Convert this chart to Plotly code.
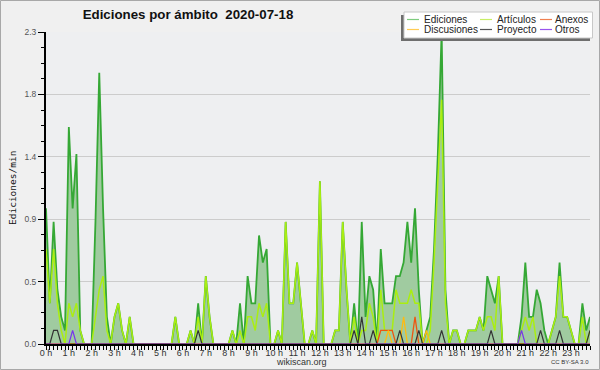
import plotly.graph_objects as go

# ---------------- data (values per 10-minute slot, edits/min) ----------------
STEP_MIN = 10
TITLE = "Ediciones por ámbito  2020-07-18"
Y_TITLE = "Ediciones/min"
HOURS = list(range(24))
HOUR_LABELS = [f"{h} h" for h in HOURS]

ediciones = [
    1.0, 0.3, 0.9, 0.4, 0.2, 0.1,   # 0 h
    1.6, 1.0, 1.4, 0.1, 0, 0,       # 1 h
    0, 0.9, 2.0, 1.0, 0.2, 0,       # 2 h
    0.2, 0.3, 0.1, 0, 0.2, 0,       # 3 h
    0, 0, 0, 0, 0, 0,               # 4 h
    0, 0, 0, 0, 0.2, 0,             # 5 h
    0, 0, 0.1, 0, 0.3, 0,           # 6 h
    0.5, 0.2, 0, 0, 0, 0,           # 7 h
    0, 0.1, 0, 0.3, 0, 0.5,         # 8 h
    0.3, 0.3, 0.8, 0.6, 0.7, 0,     # 9 h
    0, 0.1, 0, 0.9, 0.3, 0.3,       # 10 h
    0.6, 0.3, 0, 0, 0.1, 0,         # 11 h
    1.2, 0, 0, 0, 0.1, 0.1,         # 12 h
    0.9, 0.4, 0, 0.3, 0, 0.9,       # 13 h
    0.2, 0.5, 0.4, 0, 0.7, 0.3,     # 14 h
    0.3, 0.3, 0.5, 0.5, 0.6, 0.9,   # 15 h
    0.6, 1.0, 0.4, 0, 0.1, 0.2,     # 16 h
    0.7, 1.4, 2.3, 0.4, 0, 0.1,     # 17 h
    0.1, 0, 0, 0.1, 0.1, 0.1,       # 18 h
    0.2, 0.1, 0.5, 0.4, 0.3, 0.5,   # 19 h
    0, 0, 0, 0, 0, 0.2,             # 20 h
    0.6, 0.2, 0.2, 0.4, 0.3, 0.1,   # 21 h
    0, 0.1, 0.2, 0.6, 0.2, 0.2,     # 22 h
    0.1, 0, 0, 0.3, 0.1, 0.2,       # 23 h
]

articulos = [
    0.7, 0.3, 0.7, 0.3, 0.1, 0,
    0.3, 0.2, 0.3, 0.1, 0, 0,
    0, 0.2, 0.4, 0.5, 0.1, 0,
    0.2, 0.3, 0.1, 0, 0.2, 0,
    0, 0, 0, 0, 0, 0,
    0, 0, 0, 0, 0.2, 0,
    0, 0, 0.1, 0, 0.2, 0,
    0.5, 0.2, 0, 0, 0, 0,
    0, 0.1, 0, 0.1, 0, 0.2,
    0.2, 0.1, 0.3, 0.2, 0.3, 0,
    0, 0.1, 0, 0.9, 0.3, 0.3,
    0.6, 0.3, 0, 0, 0.1, 0,
    1.2, 0, 0, 0, 0.1, 0.1,
    0.9, 0.4, 0, 0.2, 0, 0.1,
    0.1, 0.3, 0.2, 0, 0.4, 0.1,
    0.1, 0.1, 0.4, 0.3, 0.3, 0.3,
    0.4, 0.3, 0.3, 0, 0, 0.1,
    0.6, 1.2, 1.8, 0.3, 0, 0.1,
    0.1, 0, 0, 0.1, 0.1, 0.1,
    0.2, 0.1, 0.2, 0.2, 0.1, 0.5,
    0, 0, 0, 0, 0, 0.1,
    0.2, 0.1, 0.2, 0, 0, 0,
    0, 0.1, 0.2, 0.5, 0.2, 0.2,
    0.1, 0, 0, 0.2, 0, 0.1,
]

anexos = [0] * 84 + [
    0, 0, 0, 0, 0.1, 0.1,           # 14 h
    0.1, 0.1, 0, 0, 0, 0,           # 15 h
    0, 0.2, 0, 0, 0, 0,             # 16 h
] + [0] * 42

discusiones = [0] * 90 + [
    0.1, 0, 0, 0, 0.2, 0,           # 15 h
    0, 0, 0, 0, 0.1, 0,             # 16 h
] + [0] * 42

proyecto = [
    0, 0, 0.1, 0.1, 0, 0,           # 0 h
] + [0] * 30 + [
    0, 0, 0, 0, 0.1, 0,             # 6 h
] + [0] * 36 + [
    0, 0, 0, 0.1, 0, 0.2,           # 13 h
    0, 0, 0.1, 0, 0, 0,             # 14 h
    0, 0, 0, 0.1, 0, 0,             # 15 h
    0, 0, 0.1, 0, 0, 0,             # 16 h
    0, 0, 0.1, 0, 0, 0,             # 17 h
    0, 0, 0, 0, 0, 0,               # 18 h
    0, 0, 0, 0.1, 0, 0,             # 19 h
    0, 0, 0, 0, 0, 0,               # 20 h
    0, 0, 0, 0, 0.1, 0,             # 21 h
    0, 0, 0, 0.1, 0, 0,             # 22 h
    0, 0, 0, 0, 0, 0.1,             # 23 h
]

otros = [0] * 6 + [0, 0.1, 0, 0, 0, 0] + [0] * 108 + [0, 0, 0, 0, 0, 0.1] + [0] * 18

SERIES_NAMES = ["Ediciones", "Artículos", "Anexos", "Discusiones", "Proyecto", "Otros"]
SERIES_VALUES = [ediciones, articulos, anexos, discusiones, proyecto, otros]
SERIES_COLORS = ["#35a835", "#aaee11", "#ee5511", "#ffbb11", "#333333", "#7733ee"]
LEGEND_COLORS = ["#7fcc7f", "#c8ee66", "#f08050", "#ffcc55", "#555555", "#9955ee"]
SERIES_WIDTHS = [1.8, 1.5, 1.3, 1.3, 1.2, 1.2]
FILL_COLOR = "rgb(160,203,160)"

# ---------------- geometry ----------------
W, H = 600, 370
ML, MR, MT, MB = 46, 10, 32, 26
PW = W - ML - MR
PH = H - MT - MB
SANS = "Liberation Sans"


def px(x):
    return (x - ML) / PW


def py(y):
    return (H - MB - y) / PH


x_hours = [i * STEP_MIN / 60 for i in range(len(ediciones))]

fig = go.Figure()
for k, (name, vals, col, lw) in enumerate(zip(SERIES_NAMES, SERIES_VALUES, SERIES_COLORS, SERIES_WIDTHS)):
    fig.add_trace(go.Scatter(
        x=x_hours, y=vals, mode="lines", name=name,
        line=dict(color=col, width=lw),
        fill="tozeroy" if k == 0 else None,
        fillcolor=FILL_COLOR if k == 0 else None,
        showlegend=False, hoverinfo="skip",
    ))

ymax = max(ediciones)
y_major = [ymax * k / 5 for k in range(6)]
y_labels = [f"{v:.1f}" for v in y_major]
y_minor = [ymax * k / 20 for k in range(21) if k % 4]
x_minor = [i * STEP_MIN / 60 for i in range(len(ediciones)) if i % 6]

fig.update_layout(
    width=W, height=H,
    margin=dict(l=ML, r=MR, t=MT, b=MB, autoexpand=False),
    paper_bgcolor="#f0f0f0",
    plot_bgcolor="#eeeff1",
    font=dict(family=SANS, size=9, color="#333333"),
    showlegend=False,
    title=dict(text=f"<b>{TITLE}</b>", x=188 / W, xanchor="center",
               y=1 - 14 / H, yanchor="middle",
               font=dict(family=SANS, size=13.3, color="#111111")),
    xaxis=dict(
        range=[0, x_hours[-1]],
        tickmode="array", tickvals=HOURS, ticktext=HOUR_LABELS,
        ticks="outside", ticklen=4, tickwidth=1, tickcolor="#000000",
        ticklabelstandoff=-5,
        showline=True, linecolor="#000000", linewidth=2,
        showgrid=False, zeroline=False,
        tickfont=dict(family=SANS, size=9, color="#333333"),
        minor=dict(tickvals=x_minor, ticks="outside", ticklen=4, tickwidth=1,
                   tickcolor="#000000", showgrid=False),
    ),
    yaxis=dict(
        range=[0, ymax],
        tickmode="array", tickvals=y_major, ticktext=y_labels,
        ticks="outside", ticklen=6, tickwidth=1, tickcolor="#000000",
        showline=True, linecolor="#000000", linewidth=2,
        showgrid=True, gridcolor="#cccccc", gridwidth=1, zeroline=False,
        tickfont=dict(family=SANS, size=8.5, color="#555555"),
        minor=dict(tickvals=y_minor, ticks="outside", ticklen=3, tickwidth=1,
                   tickcolor="#000000", showgrid=False),
    ),
)

shapes = []
# figure frame
shapes.append(dict(type="rect", xref="paper", yref="paper",
                   x0=px(0.5), x1=px(599.5), y0=py(369.5), y1=py(0.5),
                   line=dict(color="#a8a8a8", width=1), fillcolor="rgba(0,0,0,0)",
                   layer="above"))
# legend shadow + box
shapes.append(dict(type="rect", xref="paper", yref="paper",
                   x0=px(401), x1=px(590), y0=py(41), y1=py(15),
                   line=dict(width=0), fillcolor="#6e6e6e", layer="above"))
shapes.append(dict(type="rect", xref="paper", yref="paper",
                   x0=px(404), x1=px(592.5), y0=py(38), y1=py(12),
                   line=dict(color="#c8c8c8", width=1), fillcolor="#ffffff", layer="above"))

annotations = []
col_line_x = [407, 480, 540]
col_text_x = [423, 496, 554]
row_y = [19.5, 29.5]
legend_order = [0, 3, 1, 4, 2, 5]  # column-wise: Ediciones/Discusiones, Artículos/Proyecto, Anexos/Otros
for slot, si in enumerate(legend_order):
    c, r = slot // 2, slot % 2
    shapes.append(dict(type="line", xref="paper", yref="paper",
                       x0=px(col_line_x[c]), x1=px(col_line_x[c] + 12),
                       y0=py(row_y[r]), y1=py(row_y[r]),
                       line=dict(color=LEGEND_COLORS[si], width=1.2), layer="above"))
    annotations.append(dict(text=SERIES_NAMES[si], xref="paper", yref="paper",
                            x=px(col_text_x[c]), y=py(row_y[r]), xanchor="left", yanchor="middle",
                            showarrow=False, borderpad=0,
                            font=dict(family=SANS, size=10, color="#222222")))

annotations.append(dict(text=Y_TITLE, xref="paper", yref="paper", x=px(12), y=py(188),
                        textangle=-90, showarrow=False, xanchor="center", yanchor="middle",
                        font=dict(family="DejaVu Sans Mono", size=9.5, color="#111111")))
annotations.append(dict(text="wikiscan.org", xref="paper", yref="paper", x=px(301), y=py(362),
                        showarrow=False, xanchor="center", yanchor="middle",
                        font=dict(family=SANS, size=9, color="#333333")))
annotations.append(dict(text="CC BY-SA 3.0", xref="paper", yref="paper", x=px(590), y=py(362),
                        showarrow=False, xanchor="right", yanchor="middle", borderpad=0,
                        font=dict(family=SANS, size=6, color="#333333")))

fig.update_layout(shapes=shapes, annotations=annotations)
fig.write_html("out.html", config={"displayModeBar": False},
               post_script="document.body.style.margin='0';document.body.style.padding='0';")
